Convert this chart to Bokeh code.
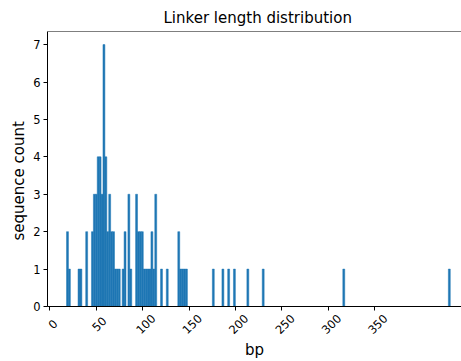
import numpy as np
from bokeh.plotting import figure
from bokeh.models import Range1d, FixedTicker, Span, LinearAxis, Title
from bokeh.embed import file_html
from bokeh.resources import INLINE

# Histogram of linker lengths: 200 equal-width bins between the shortest and longest linker
hist_min = 18.0
hist_max = 431.5
n_bins = 200

# Non-empty bins (index into the 200 bins) and the number of sequences in each
bin_ids = [0, 1, 6, 7, 10, 13, 14, 15, 16, 17, 18, 19, 20, 21, 22, 23, 24, 25,
           26, 27, 29, 30, 32, 33, 36, 37, 38, 39, 40, 41, 42, 43, 44, 45, 46,
           49, 52, 58, 59, 60, 61, 62, 76, 81, 84, 87, 94, 102, 144, 199]
bin_counts = [2, 1, 1, 1, 2, 2, 3, 3, 4, 4, 3, 7, 4, 2, 3, 2, 2, 1,
              1, 1, 1, 2, 3, 1, 3, 2, 2, 2, 1, 1, 1, 1, 2, 1, 3,
              1, 1, 2, 1, 1, 1, 1, 1, 1, 1, 1, 1, 1, 1, 1]

x_ticks = [0, 50, 100, 150, 200, 250, 300, 350]
y_ticks = [0, 1, 2, 3, 4, 5, 6, 7]

edges = np.linspace(hist_min, hist_max, n_bins + 1)
ids = np.array(bin_ids)
left = edges[ids]
right = edges[ids + 1]

FONT = "DejaVu Sans"
W, H = 461, 361
B_LEFT, B_RIGHT, B_TOP, B_BOTTOM = 47, 0, 31, 55
X0, X1 = -2.5, 443.6
Y0, Y1 = 0, 7.35
px_x = (W - B_LEFT - B_RIGHT) / (X1 - X0)

# rotated tick labels sit centred under their ticks: shift the label axis right a few pixels
label_shift_px = 11.0
shift = label_shift_px / px_x

p = figure(width=W, height=H, output_backend="svg", toolbar_location=None,
           x_range=Range1d(X0, X1), y_range=Range1d(Y0, Y1),
           title="Linker length distribution", x_axis_location=None)
p.extra_x_ranges = {"labels": Range1d(X0 - shift, X1 - shift)}
p.min_border_left = B_LEFT
p.min_border_right = B_RIGHT
p.min_border_top = B_TOP
p.min_border_bottom = B_BOTTOM
p.background_fill_color = "white"
p.border_fill_color = "white"
p.outline_line_color = None
p.grid.visible = False

p.title.align = "left"
p.title.offset = 116
p.title.text_font = FONT
p.title.text_font_size = "15px"
p.title.text_font_style = "normal"
p.title.text_color = "black"

p.quad(left=left, right=right, bottom=0, top=bin_counts,
       fill_color="#1f77b4", line_color="#1f77b4", line_width=0.5)

# top spine (no right spine inside the canvas)
p.add_layout(Span(location=Y1, dimension="width", line_color="black", line_width=1))

# bottom spine with tick marks only
x_spine = LinearAxis(ticker=FixedTicker(ticks=[], minor_ticks=x_ticks))
x_spine.axis_line_color = "black"
x_spine.axis_line_width = 1
x_spine.major_tick_line_color = None
x_spine.minor_tick_line_color = "black"
x_spine.minor_tick_line_width = 1
x_spine.minor_tick_in = 0
x_spine.minor_tick_out = 4
x_spine.major_label_standoff = 0
p.add_layout(x_spine, "below")

# rotated tick labels and the axis title; short labels get trailing no-break
# spaces so that every label ends up centred under its tick
x_labels = LinearAxis(x_range_name="labels", ticker=FixedTicker(ticks=x_ticks),
                      axis_label="bp")
x_labels.major_label_overrides = {0: "0\u00a0\u00a0", 50: "50\u00a0"}
x_labels.axis_line_color = None
x_labels.major_tick_line_color = None
x_labels.minor_tick_line_color = None
x_labels.major_tick_in = 0
x_labels.major_tick_out = 0
x_labels.major_label_orientation = np.pi / 4
x_labels.major_label_standoff = 6
x_labels.major_label_text_font = FONT
x_labels.major_label_text_font_size = "11.5px"
x_labels.major_label_text_color = "black"
x_labels.axis_label_text_font = FONT
x_labels.axis_label_text_font_size = "15px"
x_labels.axis_label_text_font_style = "normal"
x_labels.axis_label_text_color = "black"
x_labels.axis_label_standoff = -4
p.add_layout(x_labels, "below")

ya = p.yaxis[0]
ya.ticker = FixedTicker(ticks=y_ticks)
ya.axis_line_color = "black"
ya.axis_line_width = 1
ya.major_tick_line_color = "black"
ya.major_tick_in = 0
ya.major_tick_out = 4
ya.minor_tick_line_color = None
ya.major_label_text_font = FONT
ya.major_label_text_font_size = "11.5px"
ya.major_label_text_color = "black"
ya.major_label_standoff = 3

# y axis title
y_title = Title(text="sequence count", align="left", offset=66, standoff=6,
                text_font=FONT, text_font_size="15px", text_font_style="normal",
                text_color="black")
p.add_layout(y_title, "left")

open("out.html", "w").write(file_html(p, INLINE))
